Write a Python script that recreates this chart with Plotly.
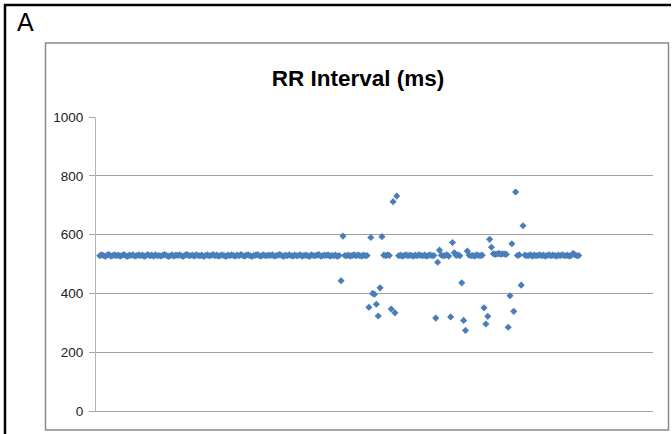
import plotly.graph_objects as go

# ---- data ----
title_text = "RR Interval (ms)"
panel_label = "A"
y_tick_values = [0, 200, 400, 600, 800, 1000]
y_tick_labels = ["0", "200", "400", "600", "800", "1000"]

first_beat = 2
rr_ms = [
    # beats 2-131 : steady rhythm
    528, 531, 529, 526, 530, 532, 527, 529, 531, 528,
    530, 527, 529, 532, 528, 526, 530, 529, 531, 527,
    529, 531, 528, 530, 526, 529, 532, 528, 530, 527,
    531, 528, 529, 527, 530, 532, 529, 526, 528, 531,
    527, 530, 529, 531, 528, 526, 530, 532, 528, 529,
    530, 527, 531, 529, 528, 530, 526, 529, 531, 528,
    529, 532, 528, 530, 527, 529, 531, 528, 526, 530,
    528, 531, 529, 527, 530, 528, 532, 529, 527, 530,
    531, 528, 526, 529, 530, 532, 528, 527, 531, 529,
    528, 530, 529, 531, 527, 528, 530, 532, 529, 526,
    530, 528, 531, 529, 527, 530, 528, 529, 531, 527,
    529, 530, 528, 526, 531, 529, 528, 530, 532, 527,
    528, 530, 529, 531, 527, 529, 528, 530, 526, 529,
    # beats 132-133
    443, 595,
    # beats 134-146
    529, 528, 530, 527, 529, 531, 528, 530, 529, 527, 530, 528, 529,
    # beats 147-154
    353, 590, 400, 397, 363, 323, 419, 593,
    # beats 155-158
    530, 528, 531, 529,
    # beats 159-162
    347, 712, 334, 731,
    # beats 163-182
    528, 530, 527, 529, 531, 528, 530, 529, 527, 530,
    528, 531, 529, 528, 530, 527, 529, 531, 528, 529,
    # beats 183-185
    316, 506, 547,
    # beats 186-190
    530, 528, 529, 531, 527,
    # beats 191-193
    320, 573, 538,
    # beats 194-196
    529, 531, 528,
    # beats 197-200
    436, 308, 274, 544,
    # beats 201-208
    530, 528, 529, 527, 531, 529, 528, 530,
    # beats 209-213
    351, 296, 322, 584, 557,
    # beats 214-221
    535, 533, 534, 536, 533, 535, 534, 533,
    # beats 222-226
    285, 392, 569, 339, 745,
    # beats 227-228
    529, 531,
    # beats 229-230
    428, 630,
    # beats 231-260
    530, 528, 529, 531, 527, 530, 528, 529, 531, 528,
    530, 527, 529, 531, 528, 530, 529, 527, 530, 528,
    531, 529, 528, 530, 527, 529, 536, 531, 528, 529,
]
beat_index = list(range(first_beat, first_beat + len(rr_ms)))

# ---- layout geometry (pixels) ----
W, H = 672, 434
PL, PR, PT, PB = 96, 653, 117, 411   # plot area edges


def px_x(px):
    return (px - PL) / (PR - PL)


def px_y(py):
    return (PB - py) / (PB - PT)


fig = go.Figure()
fig.add_trace(go.Scatter(
    x=beat_index, y=rr_ms, mode="markers",
    marker=dict(symbol="diamond", size=5.5, color="#4A7EBB",
                line=dict(width=0)),
    hoverinfo="x+y", showlegend=False,
))

shapes = [
    # outer black frame (top and left)
    dict(type="line", xref="paper", yref="paper",
         x0=px_x(4), x1=px_x(671), y0=px_y(5), y1=px_y(5),
         line=dict(color="black", width=2.5)),
    dict(type="line", xref="paper", yref="paper",
         x0=px_x(5), x1=px_x(5), y0=px_y(4), y1=px_y(440),
         line=dict(color="black", width=2.5)),
    # inner chart frame (gray)
    dict(type="rect", xref="paper", yref="paper",
         x0=px_x(45.5), x1=px_x(668.5), y0=px_y(430), y1=px_y(43),
         line=dict(color="#8A8A8A", width=1.5), fillcolor="rgba(0,0,0,0)"),
]

fig.update_layout(
    width=W, height=H,
    margin=dict(l=PL, r=W - PR, t=PT, b=H - PB, pad=0),
    paper_bgcolor="white", plot_bgcolor="white",
    font=dict(family="Liberation Sans, Arial, sans-serif", color="#333333"),
    title=dict(text="<b>" + title_text + "</b>", xref="container",
               x=358 / W, xanchor="center", yref="container",
               y=1 - 78 / H, yanchor="middle",
               font=dict(size=22.5, color="black",
                         family="Liberation Sans, Arial, sans-serif")),
    shapes=shapes,
    annotations=[dict(text=panel_label, xref="paper", yref="paper",
                      x=px_x(25), y=px_y(22), xanchor="center",
                      yanchor="middle", showarrow=False,
                      font=dict(size=25, color="black",
                                family="Liberation Sans, Arial, sans-serif"))],
    xaxis=dict(range=[0, 300], showticklabels=False, showgrid=False,
               zeroline=False, showline=True, linecolor="#A6A6A6",
               linewidth=1, ticks="", fixedrange=True),
    yaxis=dict(range=[0, 1000], tickvals=y_tick_values, ticktext=y_tick_labels,
               showgrid=True, gridcolor="#A0A0A0", gridwidth=1,
               zeroline=False, showline=True, linecolor="#B5B5B5",
               linewidth=1, ticks="outside", ticklen=6, tickcolor="#A6A6A6",
               ticklabelstandoff=3,
               tickfont=dict(size=13.5, color="#222222"), fixedrange=True),
)

fig.write_html("out.html",
               config={"displayModeBar": False},
               post_script="document.body.style.margin='0';"
                           "document.body.style.overflow='hidden';")
